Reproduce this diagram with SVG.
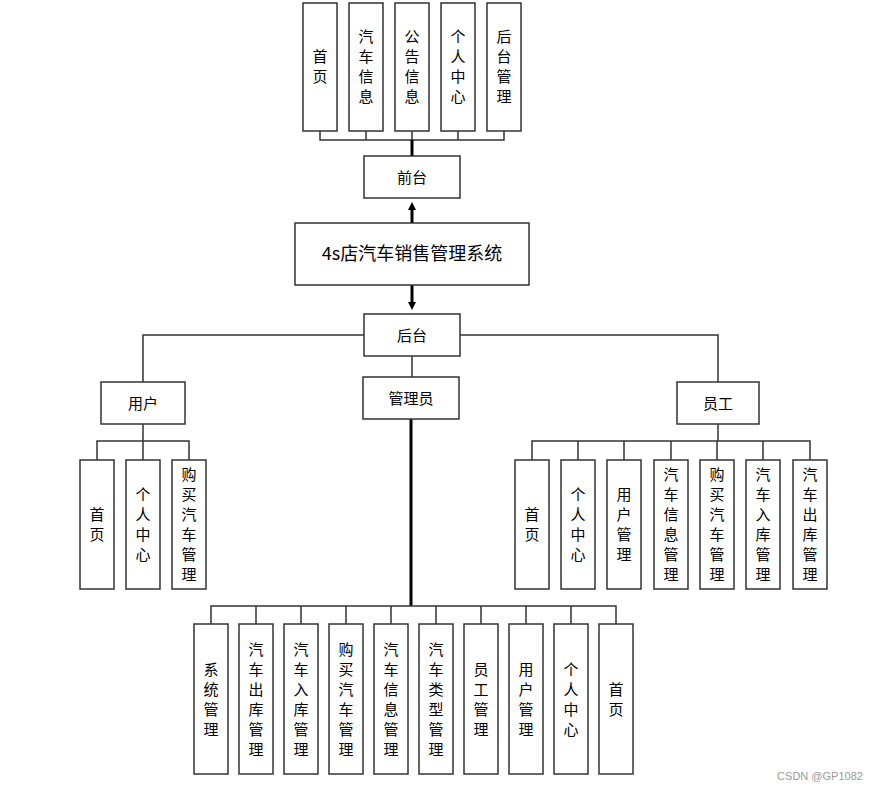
<svg xmlns="http://www.w3.org/2000/svg" width="879" height="790" viewBox="0 0 879 790">
<style>
rect{fill:#fff;stroke:#333;stroke-width:1.5}
text{font-family:"Noto Sans CJK SC",sans-serif;font-size:15px;text-anchor:middle;fill:#000}
.c{fill:none;stroke:#333;stroke-width:1.5}
.t{fill:none;stroke:#000;stroke-width:3}
</style>
<defs><marker id="a" markerWidth="8" markerHeight="8" refX="4" refY="4" orient="auto" markerUnits="userSpaceOnUse" viewBox="0 0 8 8"><path d="M0,0L8,4L0,8z" fill="#000"/></marker></defs>
<rect x="0" y="0" width="879" height="790" style="fill:#fff;stroke:none"/>
<g id="connectors">
<path class="c" d="M320,131V140H504V131M366,131V140M412,131V140M458,131V140"/>
<path class="t" d="M412,140V156"/>
<path class="t" d="M412,223V206" marker-end="url(#a)"/>
<path class="t" d="M412,285V306" marker-end="url(#a)"/>
<path class="c" d="M364,335H143V382M460,335H718V382M412,356V377"/>
<path class="t" d="M411,419V606"/>
<path class="c" d="M211,624V606H616V624M256,606V624M301,606V624M346,606V624M391,606V624M436,606V624M481,606V624M526,606V624M571,606V624"/>
<path class="c" d="M143,424V441M97,460V441H189V460M143,441V460"/>
<path class="c" d="M718,424V441M532,460V441H810V460M578,441V460M624,441V460M671,441V460M717,441V460M763,441V460"/>
</g>
<g id="n_main"><rect x="295" y="223" width="234" height="62"/><text x="412" y="260" style="font-size:18px">4s店汽车销售管理系统</text></g>
<g id="n_qt"><rect x="364" y="156" width="96" height="42"/><text x="412" y="183">前台</text></g>
<g id="n_ht"><rect x="364" y="314" width="96" height="42"/><text x="412" y="341">后台</text></g>
<g id="n_gly"><rect x="363" y="377" width="96" height="42"/><text x="411" y="404">管理员</text></g>
<g id="n_yh"><rect x="101" y="382" width="84" height="42"/><text x="143" y="409">用户</text></g>
<g id="n_yg"><rect x="677" y="382" width="82" height="42"/><text x="718" y="409">员工</text></g>
<g id="top">
<g id="t1"><rect x="303" y="3" width="34" height="128"/><text x="320" y="62">首</text><text x="320" y="82">页</text></g>
<g id="t2"><rect x="349" y="3" width="34" height="128"/><text x="366" y="42">汽</text><text x="366" y="62">车</text><text x="366" y="82">信</text><text x="366" y="102">息</text></g>
<g id="t3"><rect x="395" y="3" width="34" height="128"/><text x="412" y="42">公</text><text x="412" y="62">告</text><text x="412" y="82">信</text><text x="412" y="102">息</text></g>
<g id="t4"><rect x="441" y="3" width="34" height="128"/><text x="458" y="42">个</text><text x="458" y="62">人</text><text x="458" y="82">中</text><text x="458" y="102">心</text></g>
<g id="t5"><rect x="487" y="3" width="34" height="128"/><text x="504" y="42">后</text><text x="504" y="62">台</text><text x="504" y="82">管</text><text x="504" y="102">理</text></g>
</g>
<g id="user">
<g id="u1"><rect x="80" y="460" width="34" height="129"/><text x="97" y="520">首</text><text x="97" y="540">页</text></g>
<g id="u2"><rect x="126" y="460" width="34" height="129"/><text x="143" y="500">个</text><text x="143" y="520">人</text><text x="143" y="540">中</text><text x="143" y="560">心</text></g>
<g id="u3"><rect x="172" y="460" width="34" height="129"/><text x="189" y="480">购</text><text x="189" y="500">买</text><text x="189" y="520">汽</text><text x="189" y="540">车</text><text x="189" y="560">管</text><text x="189" y="580">理</text></g>
</g>
<g id="staff">
<g id="s1"><rect x="515" y="460" width="34" height="129"/><text x="532" y="520">首</text><text x="532" y="540">页</text></g>
<g id="s2"><rect x="561" y="460" width="34" height="129"/><text x="578" y="500">个</text><text x="578" y="520">人</text><text x="578" y="540">中</text><text x="578" y="560">心</text></g>
<g id="s3"><rect x="607" y="460" width="34" height="129"/><text x="624" y="500">用</text><text x="624" y="520">户</text><text x="624" y="540">管</text><text x="624" y="560">理</text></g>
<g id="s4"><rect x="654" y="460" width="34" height="129"/><text x="671" y="480">汽</text><text x="671" y="500">车</text><text x="671" y="520">信</text><text x="671" y="540">息</text><text x="671" y="560">管</text><text x="671" y="580">理</text></g>
<g id="s5"><rect x="700" y="460" width="34" height="129"/><text x="717" y="480">购</text><text x="717" y="500">买</text><text x="717" y="520">汽</text><text x="717" y="540">车</text><text x="717" y="560">管</text><text x="717" y="580">理</text></g>
<g id="s6"><rect x="746" y="460" width="34" height="129"/><text x="763" y="480">汽</text><text x="763" y="500">车</text><text x="763" y="520">入</text><text x="763" y="540">库</text><text x="763" y="560">管</text><text x="763" y="580">理</text></g>
<g id="s7"><rect x="793" y="460" width="34" height="129"/><text x="810" y="480">汽</text><text x="810" y="500">车</text><text x="810" y="520">出</text><text x="810" y="540">库</text><text x="810" y="560">管</text><text x="810" y="580">理</text></g>
</g>
<g id="admin">
<g id="a1"><rect x="194" y="624" width="34" height="150"/><text x="211" y="675">系</text><text x="211" y="695">统</text><text x="211" y="715">管</text><text x="211" y="735">理</text></g>
<g id="a2"><rect x="239" y="624" width="34" height="150"/><text x="256" y="655">汽</text><text x="256" y="675">车</text><text x="256" y="695">出</text><text x="256" y="715">库</text><text x="256" y="735">管</text><text x="256" y="755">理</text></g>
<g id="a3"><rect x="284" y="624" width="34" height="150"/><text x="301" y="655">汽</text><text x="301" y="675">车</text><text x="301" y="695">入</text><text x="301" y="715">库</text><text x="301" y="735">管</text><text x="301" y="755">理</text></g>
<g id="a4"><rect x="329" y="624" width="34" height="150"/><text x="346" y="655">购</text><text x="346" y="675">买</text><text x="346" y="695">汽</text><text x="346" y="715">车</text><text x="346" y="735">管</text><text x="346" y="755">理</text></g>
<g id="a5"><rect x="374" y="624" width="34" height="150"/><text x="391" y="655">汽</text><text x="391" y="675">车</text><text x="391" y="695">信</text><text x="391" y="715">息</text><text x="391" y="735">管</text><text x="391" y="755">理</text></g>
<g id="a6"><rect x="419" y="624" width="34" height="150"/><text x="436" y="655">汽</text><text x="436" y="675">车</text><text x="436" y="695">类</text><text x="436" y="715">型</text><text x="436" y="735">管</text><text x="436" y="755">理</text></g>
<g id="a7"><rect x="464" y="624" width="34" height="150"/><text x="481" y="675">员</text><text x="481" y="695">工</text><text x="481" y="715">管</text><text x="481" y="735">理</text></g>
<g id="a8"><rect x="509" y="624" width="34" height="150"/><text x="526" y="675">用</text><text x="526" y="695">户</text><text x="526" y="715">管</text><text x="526" y="735">理</text></g>
<g id="a9"><rect x="554" y="624" width="34" height="150"/><text x="571" y="675">个</text><text x="571" y="695">人</text><text x="571" y="715">中</text><text x="571" y="735">心</text></g>
<g id="a10"><rect x="599" y="624" width="34" height="150"/><text x="616" y="695">首</text><text x="616" y="715">页</text></g>
</g>
<text x="820" y="780" style="font-size:11px;fill:#999;font-family:'Liberation Sans','Noto Sans CJK SC',sans-serif">CSDN @GP1082</text>
</svg>
